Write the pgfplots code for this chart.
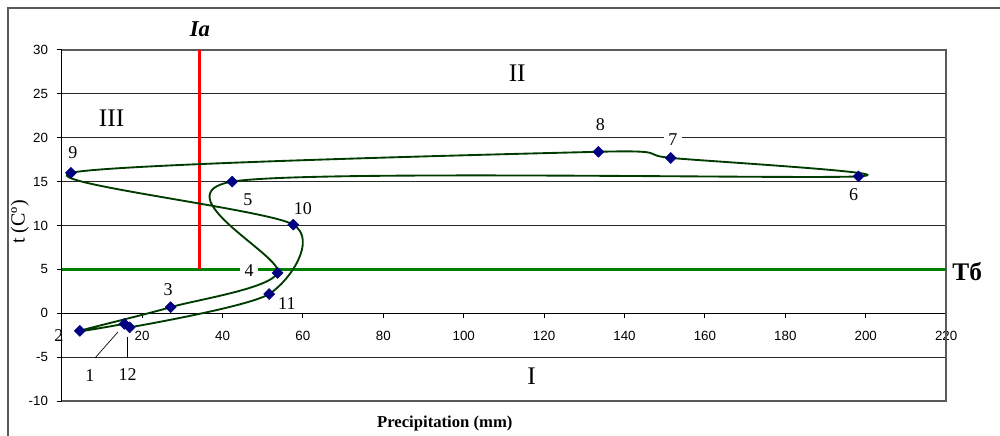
\documentclass[border=0pt]{standalone}
\usepackage{fontspec}
\setmainfont{Liberation Serif}
\newfontfamily\arial{Liberation Sans}
\usepackage{pgfplots}
\pgfplotsset{compat=1.18}
\definecolor{curvec}{RGB}{0,60,0}
\definecolor{mk}{RGB}{0,0,128}
\definecolor{gline}{RGB}{0,128,0}
\definecolor{framec}{RGB}{90,90,90}
\begin{document}
\begin{tikzpicture}
\begin{axis}[
 scale only axis, width=663pt, height=263.25pt,
 xmin=0, xmax=220, ymin=-10, ymax=30,
 axis x line=middle, axis y line=left,
 axis line style={-, black, line width=0.8pt},
 xtick={20,40,...,220}, ytick={-10,-5,...,30},
 tick align=outside, major tick length=3.75pt,
 tick style={black, line width=0.8pt},
 hide obscured x ticks=false, hide obscured y ticks=false,
 ymajorgrids, grid style={black!85, line width=0.6pt},
 ticklabel style={font=\arial\fontsize{10}{11}\selectfont},
 /pgf/number format/assume math mode=true,
 xticklabel style={yshift=-6pt},
 yticklabel style={xshift=-3pt},
 clip=false,
]
\draw[framec, line width=1pt] (axis cs:0,30) -- (axis cs:220,30) -- (axis cs:220,-10) -- (axis cs:0,-10);
\addplot[gline, line width=2.25pt, forget plot] coordinates {(0,5) (220,5)};
\addplot[red, line width=2.25pt, forget plot] coordinates {(34.2,5) (34.2,30)};
\addplot[curvec, line width=1.4pt, smooth, tension=0.45, mark=square*, mark size=2.9pt,
  mark options={rotate=45, fill=mk, draw=mk, solid, line width=0.4pt}] coordinates {
 (15.6,-1.2) (4.5,-2.0) (27.1,0.7) (53.7,4.6) (42.4,15.0) (198.2,15.6)
 (151.5,17.7) (133.5,18.4) (2.3,16.0) (57.6,10.1) (51.6,2.2) (16.9,-1.6)};
% leader lines
\draw[black, line width=0.5pt] (axis cs:8.3,-5.08) -- (axis cs:14.0,-2.12);
\draw[black, line width=0.5pt] (axis cs:16.2,-2.69) -- (axis cs:16.2,-5.08);
% point labels
\begin{scope}[every node/.style={font=\fontsize{13.5}{14}\selectfont, inner sep=1pt}]
\node at (axis cs:7,-7.1) {1};
\node at (axis cs:16.4,-7.0) {12};
\node at (axis cs:-0.7,-2.5) {2};
\node at (axis cs:26.5,2.7) {3};
\node[fill=white, inner sep=3.5pt] at (axis cs:46.6,4.9) {4};
\node at (axis cs:56,1.15) {11};
\node at (axis cs:60,11.9) {10};
\node at (axis cs:46.3,12.9) {5};
\node at (axis cs:2.8,18.3) {9};
\node at (axis cs:134,21.5) {8};
\node[fill=white, inner sep=3.5pt] at (axis cs:152,19.8) {7};
\node at (axis cs:197,13.5) {6};
\end{scope}
% region labels
\node[font=\fontsize{19}{21}\selectfont] at (axis cs:12.4,22.2) {III};
\node[font=\fontsize{19}{21}\selectfont] at (axis cs:113.3,27.3) {II};
\node[font=\fontsize{19}{21}\selectfont] at (axis cs:116.9,-7.2) {I};
\node[font=\fontsize{17}{19}\selectfont\bfseries\itshape] at (axis cs:34.4,32.4) {Ia};
\node[font=\fontsize{19}{21}\selectfont\bfseries, anchor=west, inner sep=0pt] at (axis cs:221.5,4.8) {Тб};
\node[font=\fontsize{12.5}{14}\selectfont\bfseries] at (axis cs:95.3,-12.5) {Precipitation (mm)};
\node[font=\fontsize{15}{16}\selectfont, rotate=90] at (axis cs:-10.4,10.4) {t (Cº)};
% outer chart frame
\draw[framec, line width=1pt] (axis cs:-13.36,-15) -- (axis cs:-13.36,34.78) -- (axis cs:234,34.78);
\coordinate (bbsw) at (axis cs:-15.35,-13.96);
\coordinate (bbne) at (axis cs:233.4,35.69);
\end{axis}
\pgfresetboundingbox
\path[use as bounding box] (bbsw) rectangle (bbne);
\end{tikzpicture}
\end{document}
